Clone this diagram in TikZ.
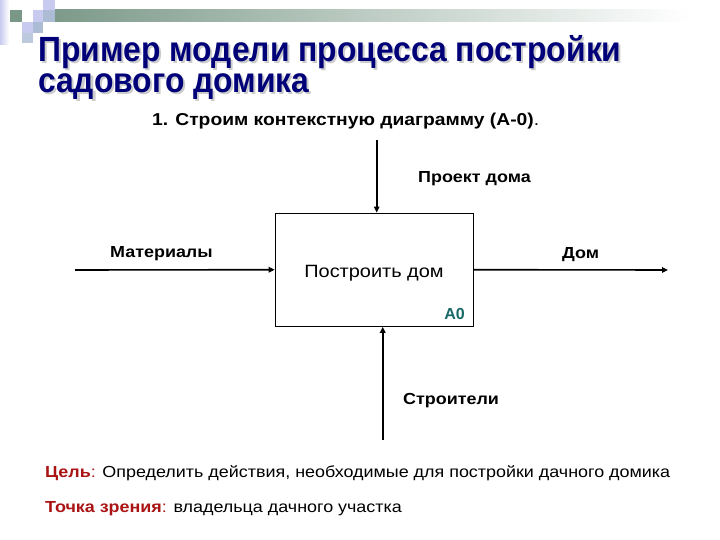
\documentclass[tikz,border=0pt]{standalone}
\usepackage{fontspec}
\setmainfont{Liberation Sans}
\newfontfamily\widefont[FakeStretch=1.12]{Liberation Sans}
\newfontfamily\titlefont[FakeStretch=0.91]{Liberation Sans}
\usetikzlibrary{arrows.meta,shadings}
\definecolor{navy}{RGB}{0,0,120}
\definecolor{barg}{RGB}{122,152,136}
\definecolor{lav}{RGB}{200,202,240}
\definecolor{gblue}{RGB}{172,188,212}
\definecolor{teal0}{RGB}{24,104,104}
\definecolor{dred}{RGB}{170,20,20}
\newcommand\shadowtxt[1]{\rlap{\hspace{2pt}\raisebox{-2pt}{\textcolor{gray!40}{#1}}}\textcolor{navy}{#1}}
\tikzset{
  lbl/.style={anchor=base west, inner sep=0pt, font=\widefont\fontsize{16}{16}\bfseries\selectfont},
  ttl/.style={anchor=base west, inner sep=0pt, font=\titlefont\fontsize{35}{35}\bfseries\selectfont},
  flow/.style={line width=1.6pt, -{Triangle[length=6pt,width=5.5pt]}},
  funcbox/.style={draw, line width=1.2pt, minimum width=198pt, minimum height=113pt, inner sep=0pt},
}
\begin{document}
\begin{tikzpicture}[x=1pt,y=-1pt]
\useasboundingbox (0,0) rectangle (720,540);
\fill[white] (0,0) rectangle (720,540);
% decoration
\shade[left color=lav, right color=white] (0,0) rectangle (9,45);
\shade[left color=barg, right color=white] (43,10) rectangle (690,22);
\fill[barg] (10,10) rectangle (22,22);
\fill[lav] (33,10) rectangle (43,22);
\fill[lav] (43,0) rectangle (55,10);
\fill[gblue] (43,10) rectangle (55,22);
\fill[lav] (22,22) rectangle (33,33);
\fill[gblue] (33,22) rectangle (43,33);
\fill[gblue!80!white] (22,33) rectangle (33,43);
% title
\node[ttl] (title1) at (38,62) {\shadowtxt{Пример модели процесса постройки}};
\node[ttl] (title2) at (38,93) {\shadowtxt{садового домика}};
\node[anchor=base west, inner sep=0pt, font=\widefont\fontsize{17.2}{17.2}\selectfont] (sub) at (152,126) {\textbf{1. Строим контекстную диаграмму (А-0)}.};
% diagram
\node[funcbox] (box) at (374.3,269.7) {};
\node[anchor=base, inner sep=0pt, font=\widefont\fontsize{17.8}{17.8}\selectfont] (fn) at (374,277) {Построить дом};
\node[anchor=base east, inner sep=0pt, font=\fontsize{16}{16}\bfseries\selectfont, text=teal0] (num) at (465,319) {А0};
\coordinate (cin) at (75,270);
\coordinate (cout) at (668,270);
\coordinate (cctl) at (376.7,140);
\coordinate (cmech) at (382.7,440);
\draw[flow] (cin) -- (box.west);
\draw[flow] (box.east) -- (cout);
\draw[flow] (cctl) -- (cctl |- box.north);
\draw[flow] (cmech) -- (cmech |- box.south);
\node[lbl] (lin) at (110,257) {Материалы};
\node[lbl] (lout) at (562,258.5) {Дом};
\node[lbl] (lctl) at (418,183) {Проект дома};
\node[lbl] (lmech) at (403,404) {Строители};
% bottom notes
\node[anchor=base west, inner sep=0pt, font=\widefont\fontsize{16}{16}\selectfont] (goal) at (45,477) {\textcolor{dred}{\textbf{Цель}:} Определить действия, необходимые для постройки дачного домика};
\node[anchor=base west, inner sep=0pt, font=\widefont\fontsize{16}{16}\selectfont] (view) at (45,512) {\textcolor{dred}{\textbf{Точка зрения}:} владельца дачного участка};
\end{tikzpicture}
\end{document}
